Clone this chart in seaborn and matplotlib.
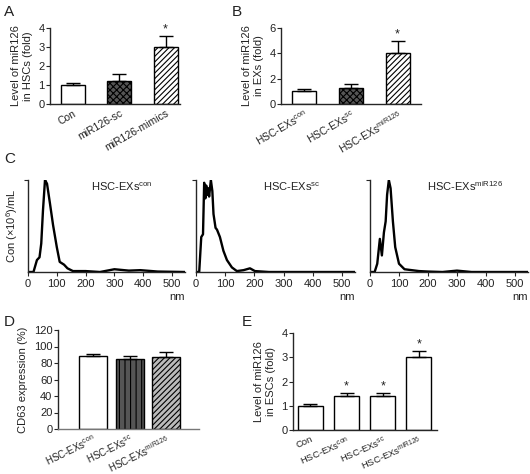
import matplotlib
matplotlib.use("Agg")
import matplotlib.pyplot as plt
import matplotlib.transforms as mtransforms
import pandas as pd
import seaborn as sns

# ---- data ----
a_groups = ["Con", "miR126-sc", "miR126-mimics"]
a_means = [1.0, 1.2, 3.0]
a_errs = [0.1, 0.4, 0.6]

b_groups = [r"HSC-EXs$^{\mathrm{con}}$", r"HSC-EXs$^{\mathrm{sc}}$", r"HSC-EXs$^{\mathrm{miR126}}$"]
b_means = [1.0, 1.3, 4.0]
b_errs = [0.2, 0.25, 1.0]

c_titles = [r"HSC-EXs$^{\mathrm{con}}$", r"HSC-EXs$^{\mathrm{sc}}$", r"HSC-EXs$^{\mathrm{miR126}}$"]
c1_nm = [0, 19, 31, 40, 46, 52, 59, 66, 76, 87, 100, 110, 125, 137, 156, 200, 250, 300, 350, 390, 450, 545]
c1_val = [0, 0, 0.13, 0.16, 0.31, 0.67, 1.0, 0.96, 0.75, 0.51, 0.27, 0.11, 0.08, 0.04, 0.01, 0.01, 0.0, 0.03, 0.015, 0.02, 0.005, 0]
c2_nm = [0, 11, 18, 24, 28, 32, 35, 39, 42, 45, 51, 56, 60, 67, 72, 82, 94, 106, 123, 140, 163, 185, 202, 250, 545]
c2_val = [0, 0, 0.38, 0.41, 0.97, 0.80, 0.94, 0.84, 0.91, 0.82, 1.0, 0.88, 0.63, 0.48, 0.46, 0.38, 0.23, 0.13, 0.05, 0.01, 0.02, 0.04, 0.01, 0, 0]
c3_nm = [0, 16, 25, 34, 41, 48, 54, 59, 65, 71, 79, 87, 100, 119, 144, 169, 200, 250, 300, 350, 545]
c3_val = [0, 0, 0.09, 0.36, 0.18, 0.43, 0.55, 0.84, 1.0, 0.91, 0.55, 0.27, 0.09, 0.03, 0.02, 0.01, 0.005, 0, 0.015, 0, 0]
c_x_ticks = [0, 100, 200, 300, 400, 500]

d_groups = b_groups
d_means = [88, 85, 87]
d_errs = [2.5, 3.0, 6.0]

e_groups = ["Con", r"HSC-EXs$^{\mathrm{con}}$", r"HSC-EXs$^{\mathrm{sc}}$", r"HSC-EXs$^{\mathrm{miR126}}$"]
e_means = [1.0, 1.42, 1.4, 3.0]
e_errs = [0.08, 0.12, 0.13, 0.25]

sns.set_style("ticks")
plt.rcParams["font.family"] = ["Liberation Sans", "DejaVu Sans"]
plt.rcParams["mathtext.fontset"] = "custom"
plt.rcParams["mathtext.rm"] = "Liberation Sans"
plt.rcParams["hatch.linewidth"] = 0.8
plt.rcParams["axes.linewidth"] = 1.0

W, H = 530, 474
fig = plt.figure(figsize=(W / 100, H / 100), dpi=100)
TXT = "#222222"
FS = 7.5


def add_ax(x0, y0, x1, y1):
    # pixel box (left, top, right, bottom) -> figure fraction
    return fig.add_axes([x0 / W, 1 - y1 / H, (x1 - x0) / W, (y1 - y0) / H])


def bar_panel(ax, groups, means, errs, width, ylim, yticks, xlim, styles, stars, ylabel,
              dx=6, dy=-2, xfs=FS, rot=30):
    df = pd.DataFrame({"group": groups, "value": means})
    sns.barplot(data=df, x="group", y="value", ax=ax, width=width,
                color="white", edgecolor="black", linewidth=1.0, errorbar=None)
    for patch, (fc, hatch) in zip(ax.patches, styles):
        patch.set_facecolor(fc)
        patch.set_hatch(hatch)
    pos = list(range(len(groups)))
    ax.errorbar(pos, means, yerr=[[0] * len(errs), errs], fmt="none",
                ecolor="black", elinewidth=1.0, capsize=5, capthick=1.0)
    for p, m, e, s in zip(pos, means, errs, stars):
        if s:
            ax.text(p, m + e + (ylim[1] - ylim[0]) * 0.005, "*", ha="center", va="bottom",
                    fontsize=9, color=TXT)
    ax.set_ylim(*ylim)
    ax.set_yticks(yticks)
    ax.set_xlim(*xlim)
    ax.set_xlabel("")
    ax.set_ylabel(ylabel, fontsize=FS + 0.5, color=TXT, labelpad=4)
    ax.set_xticks(pos)
    ax.set_xticklabels(groups, rotation=rot, ha="right", rotation_mode="anchor",
                       fontsize=xfs, color=TXT)
    shift = mtransforms.ScaledTranslation(dx / 100, dy / 100, fig.dpi_scale_trans)
    for lab in ax.get_xticklabels():
        lab.set_transform(lab.get_transform() + shift)
    ax.tick_params(axis="y", labelsize=FS + 0.5, labelcolor=TXT, length=3, pad=1)
    ax.tick_params(axis="x", length=0, pad=3)
    sns.despine(ax=ax)


# ---- A ----
axA = add_ax(50, 28, 180, 104)
bar_panel(axA, a_groups, a_means, a_errs, 0.52, (0, 4), [0, 1, 2, 3, 4], (-0.5, 2.31),
          [("white", ""), ("#555555", "xxxxx"), ("white", "//////")],
          [False, False, True], "Level of miR126\nin HSCs (fold)", dx=7)

# ---- B ----
axB = add_ax(281, 28, 421, 104)
bar_panel(axB, b_groups, b_means, b_errs, 0.51, (0, 6), [0, 2, 4, 6], (-0.49, 2.5),
          [("white", ""), ("#555555", "xxxxx"), ("white", "//////")],
          [False, False, True], "Level of miR126\nin EXs (fold)", dx=8)

# ---- C ----
c_boxes = [(28, 185), (196, 355), (370, 528)]
c_series = [(c1_nm, c1_val), (c2_nm, c2_val), (c3_nm, c3_val)]
for i, ((x0, x1), (nm, val), title) in enumerate(zip(c_boxes, c_series, c_titles)):
    ax = add_ax(x0, 180, x1, 272)
    sns.lineplot(x=nm, y=val, ax=ax, color="black", linewidth=1.7)
    ax.set_xlim(0, 545)
    ax.set_ylim(0, 1.0)
    ax.set_xticks(c_x_ticks)
    ax.set_xticklabels([str(t) for t in c_x_ticks], fontsize=FS + 0.5, color=TXT)
    ax.set_yticks([1.0])
    ax.set_yticklabels([""])
    ax.tick_params(axis="x", length=3, pad=2)
    ax.tick_params(axis="y", length=3)
    ax.text(0.6, 0.93, title, transform=ax.transAxes, ha="center", va="center",
            fontsize=FS + 0.5, color=TXT)
    ax.text(1.0, -0.27, "nm", transform=ax.transAxes, ha="right", va="center",
            fontsize=FS + 0.5, color=TXT)
    if i == 0:
        ax.set_ylabel(r"Con (×10$^{6}$)/mL", fontsize=FS + 0.5, color=TXT)
        ax.yaxis.set_label_coords(-0.05, 0.5)
    sns.despine(ax=ax)

# ---- D ----
axD = add_ax(58, 330, 199, 429)
bar_panel(axD, d_groups, d_means, d_errs, 0.76, (0, 120), [0, 20, 40, 60, 80, 100, 120],
          (-0.95, 2.89),
          [("white", ""), ("#555555", "|||"), ("#bbbbbb", "//////")],
          [False, False, False], "CD63 expression (%)", dx=0, dy=0, xfs=7, rot=26)
axD.spines["bottom"].set_color("#777777")

# ---- E ----
axE = add_ax(293, 333, 437, 430)
bar_panel(axE, e_groups, e_means, e_errs, 0.69, (0, 4), [0, 1, 2, 3, 4], (-0.48, 3.5),
          [("white", "")] * 4,
          [False, True, True, True], "Level of miR126\nin ESCs (fold)", dx=4, dy=4, xfs=6.8, rot=24)

# ---- panel letters ----
for letter, x, y in [("A", 4, 5), ("B", 232, 5), ("C", 4, 152), ("D", 4, 315), ("E", 242, 315)]:
    fig.text(x / W, 1 - y / H, letter, fontsize=11, ha="left", va="top", color=TXT)

fig.savefig("out.png", dpi=100)
